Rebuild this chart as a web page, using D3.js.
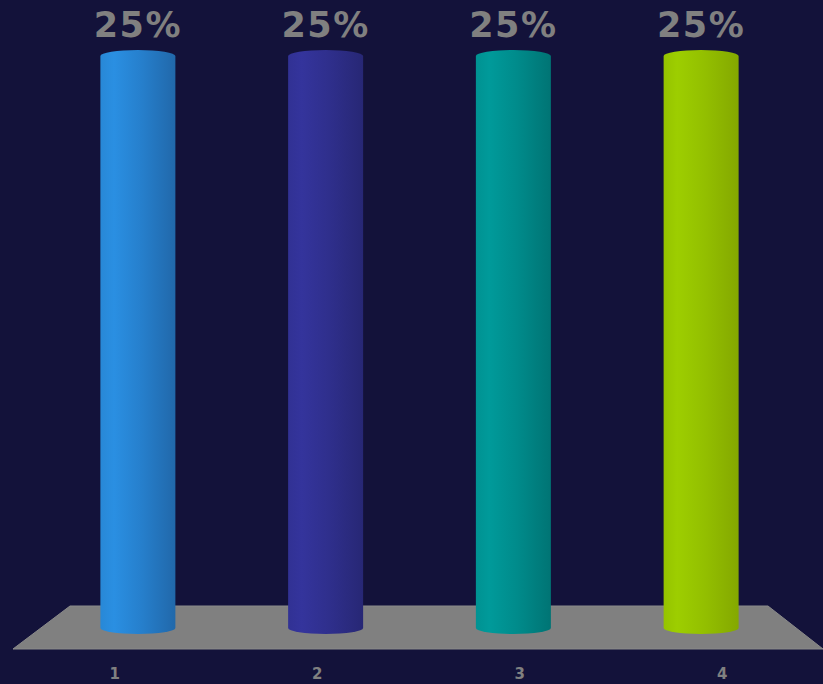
<!DOCTYPE html>
<html>
<head>
<meta charset="utf-8">
<script src="https://cdn.jsdelivr.net/npm/d3@7"></script>
<style>
  html, body { margin: 0; padding: 0; background: #13123a; }
  svg { display: block; }
</style>
</head>
<body>
<svg></svg>
<script>
let categories = ['1', '2', '3', '4']
let values = [25, 25, 25, 25]
let labels = ['25%', '25%', '25%', '25%']
let colors = [
  ['#2a8fe2', '#2168aa'],
  ['#34349c', '#272775'],
  ['#009a9a', '#007474'],
  ['#9dce00', '#84a800']
]

let width = 823
let height = 684

let svg = d3.select('svg')
  .attr('width', width)
  .attr('height', height)

svg.append('rect')
  .attr('width', width)
  .attr('height', height)
  .attr('fill', '#13123a')

// scales
let xScale = d3.scalePoint()
  .domain(categories)
  .range([44, 795])
  .padding(0.5)

let xLabelScale = d3.scalePoint()
  .domain(categories)
  .range([13, 823])
  .padding(0.5)

let yScale = d3.scaleLinear()
  .domain([0, 25])
  .range([628, 56])

let barWidth = 75
let ry = 6

// gradients
let defs = svg.append('defs')
colors.forEach((c, i) => {
  let g = defs.append('linearGradient')
    .attr('id', 'grad' + i)
    .attr('x1', '0%').attr('x2', '100%')
    .attr('y1', '0%').attr('y2', '0%')
  g.append('stop').attr('offset', '0%').attr('stop-color', d3.color(c[0]).darker(0.15))
  g.append('stop').attr('offset', '18%').attr('stop-color', c[0])
  g.append('stop').attr('offset', '55%').attr('stop-color', d3.interpolateRgb(c[0], c[1])(0.4))
  g.append('stop').attr('offset', '100%').attr('stop-color', c[1])
})

// floor
let floor = [[70, 606], [768, 606], [823, 649], [13, 649]]
svg.append('polygon')
  .attr('points', floor.map(p => p.join(',')).join(' '))
  .attr('fill', '#808080')
  .attr('stroke', '#8a8a8a')
  .attr('stroke-width', 1)

// cylinders
let bars = svg.selectAll('.bar')
  .data(values)
  .enter()
  .append('g')
  .attr('class', 'bar')

bars.append('path')
  .attr('fill', (d, i) => 'url(#grad' + i + ')')
  .attr('d', (d, i) => {
    let cx = xScale(categories[i])
    let x0 = cx - barWidth / 2
    let x1 = cx + barWidth / 2
    let yTop = yScale(d)
    let yBot = yScale(0)
    let rx = barWidth / 2
    return 'M' + x0 + ',' + yTop +
      ' A' + rx + ',' + ry + ' 0 0 1 ' + x1 + ',' + yTop +
      ' L' + x1 + ',' + yBot +
      ' A' + rx + ',' + ry + ' 0 0 1 ' + x0 + ',' + yBot + ' Z'
  })

// value labels
svg.selectAll('.val')
  .data(labels)
  .enter()
  .append('text')
  .attr('class', 'val')
  .attr('x', (d, i) => xScale(categories[i]))
  .attr('y', (d, i) => yScale(values[i]) - 19)
  .attr('text-anchor', 'middle')
  .attr('font-family', 'DejaVu Sans')
  .attr('font-weight', 'bold')
  .attr('font-size', 35)
  .attr('letter-spacing', 1.5)
  .attr('fill', '#808080')
  .text(d => d)

// category labels
let xAxis = d3.axisBottom(xLabelScale).tickSize(0).tickPadding(0)
let ax = svg.append('g')
  .attr('transform', 'translate(0,668)')
  .call(xAxis)
ax.select('.domain').remove()
ax.selectAll('text')
  .attr('font-family', 'DejaVu Sans')
  .attr('font-weight', 'bold')
  .attr('font-size', 15)
  .attr('fill', '#808080')
</script>
</body>
</html>
